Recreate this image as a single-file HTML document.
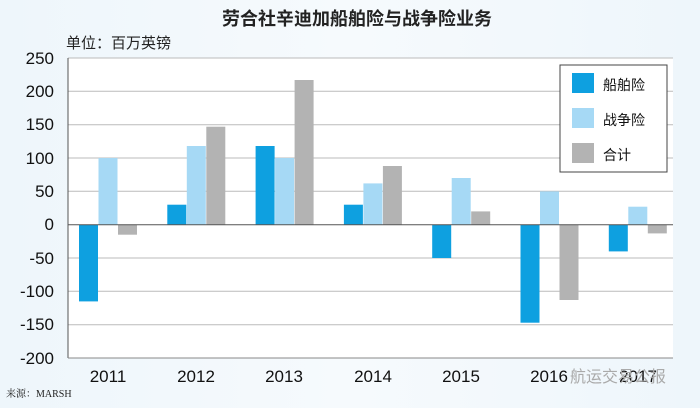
<!DOCTYPE html>
<html><head><meta charset="utf-8"><style>
body{margin:0;width:700px;height:403px;overflow:hidden;background:linear-gradient(90deg,#eef6fb,#f6fafd 50%,#eef6fb);font-family:"Liberation Sans","Noto Sans CJK SC",sans-serif}
</style></head><body>
<svg width="700" height="403" xmlns="http://www.w3.org/2000/svg" font-family="Liberation Sans, Noto Sans CJK SC, sans-serif">
<text x="357" y="25" font-size="18" font-weight="bold" text-anchor="middle" fill="#222">劳合社辛迪加船舶险与战争险业务</text>
<text x="66" y="48" font-size="15" fill="#222">单位：百万英镑</text>
<rect x="68" y="58" width="605" height="300" fill="#fff"/>
<g stroke="#bbb" stroke-width="1">
<line x1="68" y1="58" x2="673" y2="58"/><line x1="68" y1="91.3" x2="673" y2="91.3"/><line x1="68" y1="124.7" x2="673" y2="124.7"/><line x1="68" y1="158" x2="673" y2="158"/><line x1="68" y1="191.3" x2="673" y2="191.3"/><line x1="68" y1="258" x2="673" y2="258"/><line x1="68" y1="291.3" x2="673" y2="291.3"/><line x1="68" y1="324.7" x2="673" y2="324.7"/>
</g>
<g font-size="17" text-anchor="end" fill="#111">
<text x="54" y="64">250</text><text x="54" y="97">200</text><text x="54" y="130">150</text><text x="54" y="164">100</text><text x="54" y="197">50</text><text x="54" y="230">0</text><text x="54" y="264">-50</text><text x="54" y="297">-100</text><text x="54" y="330">-150</text><text x="54" y="364">-200</text>
</g>
<g>
<rect x="79" y="224.7" width="19" height="76.7" fill="#0ea0e0"/>
<rect x="98.5" y="158" width="19" height="66.7" fill="#a6d9f5"/>
<rect x="118" y="224.7" width="19" height="10" fill="#b3b3b3"/>
<rect x="167.3" y="204.7" width="19" height="20" fill="#0ea0e0"/>
<rect x="186.8" y="146" width="19" height="78.7" fill="#a6d9f5"/>
<rect x="206.3" y="126.7" width="19" height="98" fill="#b3b3b3"/>
<rect x="255.6" y="146" width="19" height="78.7" fill="#0ea0e0"/>
<rect x="275.1" y="158" width="19" height="66.7" fill="#a6d9f5"/>
<rect x="294.6" y="80" width="19" height="144.7" fill="#b3b3b3"/>
<rect x="343.9" y="204.7" width="19" height="20" fill="#0ea0e0"/>
<rect x="363.4" y="183.4" width="19" height="41.3" fill="#a6d9f5"/>
<rect x="382.9" y="166" width="19" height="58.7" fill="#b3b3b3"/>
<rect x="432.2" y="224.7" width="19" height="33.3" fill="#0ea0e0"/>
<rect x="451.7" y="178" width="19" height="46.7" fill="#a6d9f5"/>
<rect x="471.2" y="211.4" width="19" height="13.3" fill="#b3b3b3"/>
<rect x="520.5" y="224.7" width="19" height="98" fill="#0ea0e0"/>
<rect x="540" y="191.4" width="19" height="33.3" fill="#a6d9f5"/>
<rect x="559.5" y="224.7" width="19" height="75.3" fill="#b3b3b3"/>
<rect x="608.8" y="224.7" width="19" height="26.7" fill="#0ea0e0"/>
<rect x="628.3" y="206.7" width="19" height="18" fill="#a6d9f5"/>
<rect x="647.8" y="224.7" width="19" height="8.7" fill="#b3b3b3"/>
</g>
<line x1="68" y1="224.7" x2="673" y2="224.7" stroke="#555"/>
<line x1="68" y1="58" x2="68" y2="358" stroke="#555"/>
<line x1="68" y1="358" x2="673" y2="358" stroke="#888"/>
<g font-size="17" text-anchor="middle" fill="#111">
<text x="108" y="382">2011</text><text x="196" y="382">2012</text><text x="284" y="382">2013</text><text x="373" y="382">2014</text><text x="461" y="382">2015</text><text x="549" y="382">2016</text><text x="638" y="382">2017</text>
</g>
<text x="570" y="382" font-size="16" fill="#aaa">航运交易公报</text>
<text x="6" y="397" font-size="10" fill="#222" font-family="Liberation Serif, Noto Serif CJK SC, serif">来源：MARSH</text>
<rect x="560" y="65" width="107" height="107" fill="#fff" stroke="#444"/>
<rect x="572" y="73" width="22" height="20" fill="#0ea0e0"/><text x="603" y="90" font-size="14" fill="#111">船舶险</text>
<rect x="572" y="108" width="22" height="20" fill="#a6d9f5"/><text x="603" y="125" font-size="14" fill="#111">战争险</text>
<rect x="572" y="143" width="22" height="20" fill="#b3b3b3"/><text x="603" y="160" font-size="14" fill="#111">合计</text>
</svg>
</body></html>
